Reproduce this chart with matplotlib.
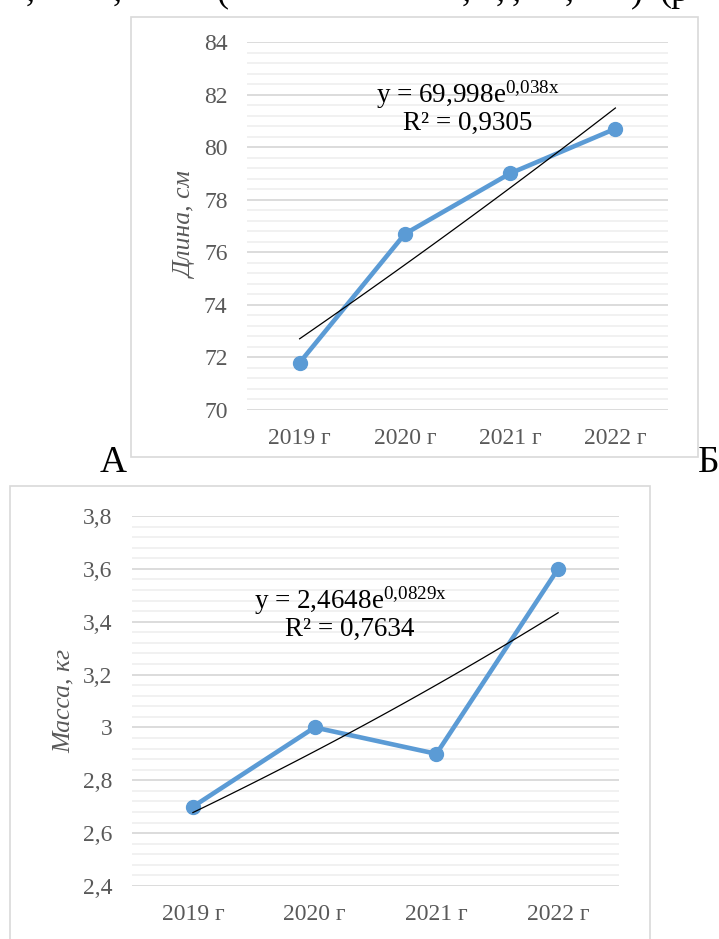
import numpy as np
import matplotlib
matplotlib.use("Agg")
import matplotlib.pyplot as plt
from matplotlib.patches import Rectangle
from matplotlib.ticker import MultipleLocator, FuncFormatter

# ---- data ----
years = ["2019 г", "2020 г", "2021 г", "2022 г"]
length_cm = [71.8, 76.7, 79.0, 80.7]
mass_kg = [2.7, 3.0, 2.9, 3.6]

# exponential trend coefficients (y = a * e^(b*x), x = 1..4)
length_trend = (69.998, 0.038)
mass_trend = (2.4648, 0.0829)
length_r2 = "0,9305"
mass_r2 = "0,7634"

plt.rcParams["font.family"] = ["Liberation Serif", "DejaVu Serif"]
plt.rcParams["mathtext.fontset"] = "custom"
plt.rcParams["mathtext.rm"] = "Liberation Serif"
plt.rcParams["mathtext.it"] = "Liberation Serif:italic"

W, H = 719, 939
fig = plt.figure(figsize=(W / 100, H / 100), dpi=100)

BLUE = "#5B9BD5"
GREY = "#595959"


def px_box(x0, y0, x1, y1):
    # pixel box (top-left origin) -> figure fraction [left, bottom, width, height]
    return [x0 / W, 1 - y1 / H, (x1 - x0) / W, (y1 - y0) / H]


def frame(x0, y0, x1, y1):
    l, b, w, h = px_box(x0, y0, x1, y1)
    fig.patches.append(Rectangle((l, b), w, h, transform=fig.transFigure,
                                 fill=False, edgecolor="#d9d9d9", linewidth=1.2))


def comma_fmt(v, pos):
    s = f"{v:.1f}".rstrip("0").rstrip(".")
    return s.replace(".", ",")


def draw_chart(ax, values, trend, r2, ymin, ymax, major, minor, ylabel,
               eq_xy, label_x):
    x = np.arange(len(values))
    ax.set_xlim(-0.5, len(values) - 0.5)
    ax.set_ylim(ymin, ymax)
    ax.yaxis.set_major_locator(MultipleLocator(major))
    ax.yaxis.set_minor_locator(MultipleLocator(minor))
    ax.yaxis.set_major_formatter(FuncFormatter(comma_fmt))
    ax.grid(which="major", axis="y", color="#d9d9d9", linewidth=1.3, zorder=0)
    ax.grid(which="minor", axis="y", color="#f0f0f0", linewidth=1.3, zorder=0)
    ax.set_axisbelow(True)
    for s in ax.spines.values():
        s.set_visible(False)
    ax.tick_params(which="both", length=0, labelsize=17, labelcolor=GREY)
    ax.tick_params(axis="y", pad=14)
    ax.tick_params(axis="x", pad=13)
    ax.set_xticks(x)
    ax.set_xticklabels(years)

    ax.plot(x, values, color=BLUE, linewidth=3.3, marker="o", markersize=10,
            solid_capstyle="round", solid_joinstyle="round", zorder=3)

    a, b = trend
    xt = np.linspace(0, len(values) - 1, 50)
    ax.plot(xt, a * np.exp(b * (xt + 1)), color="black", linewidth=0.9, zorder=4)

    a_txt = f"{a}".replace(".", ",")
    b_txt = f"{b}".replace(".", "{,}")
    fig.text(eq_xy[0] / W, 1 - eq_xy[1] / H,
             "y = " + a_txt + r"e$^{\mathrm{" + b_txt + "x}}$",
             ha="center", va="center", fontsize=19.5, color="black")
    fig.text(eq_xy[0] / W, 1 - (eq_xy[1] + 28) / H, "R² = " + r2,
             ha="center", va="center", fontsize=19.5, color="black")

    l, btm, w, h = ax.get_position().bounds
    fig.text(label_x / W, btm + h / 2, ylabel, rotation=90, ha="center",
             va="center", fontsize=18.5, style="italic", color=GREY)


# tail of the text line above the figure (only descenders fall inside)
for xp, ch in [(26, ","), (113, ","), (216, "("), (462, ","), (496, ","),
               (512, ","), (565, ","), (631, ")"), (659, "(р")]:
    fig.text(xp / W, 1 - 1 / H, ch, fontsize=26, ha="left", va="baseline")

# top chart: length
frame(131, 17, 698, 457)
ax1 = fig.add_axes(px_box(247, 42, 668, 410))
draw_chart(ax1, length_cm, length_trend, length_r2, 70, 84, 2, 0.4,
           "Длина, см", (468, 95), 186)

# bottom chart: mass
frame(10, 486, 650, 980)
ax2 = fig.add_axes(px_box(132, 516, 619, 886))
draw_chart(ax2, mass_kg, mass_trend, mass_r2, 2.4, 3.8, 0.2, 0.04,
           "Масса, кг", (350, 601), 64)

# panel letters
fig.text(100 / W, 1 - 472 / H, "А", fontsize=27, ha="left", va="baseline")
fig.text(698 / W, 1 - 472 / H, "Б", fontsize=27, ha="left", va="baseline")

fig.savefig("out.png", dpi=100)
